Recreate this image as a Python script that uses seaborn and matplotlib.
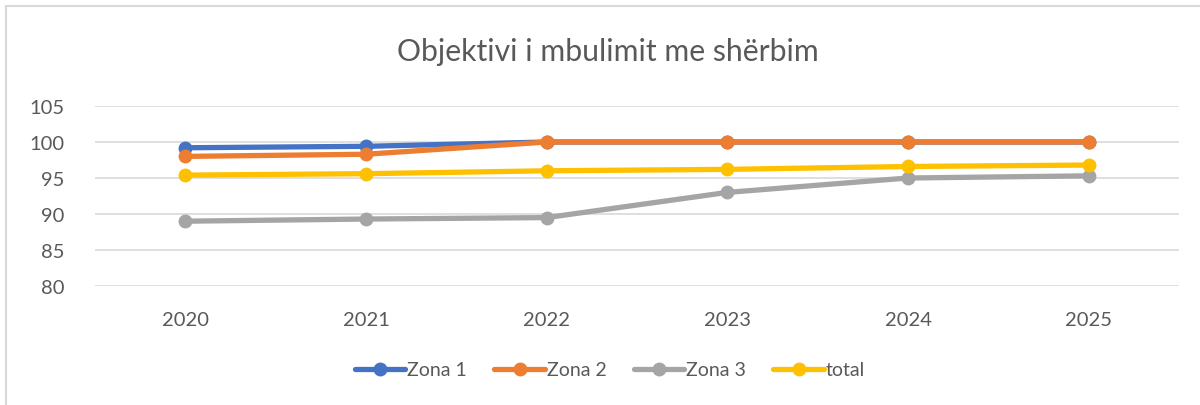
import matplotlib
matplotlib.use("Agg")
import matplotlib.pyplot as plt
import seaborn as sns
import pandas as pd
from matplotlib.patches import Rectangle

years = ["2020", "2021", "2022", "2023", "2024", "2025"]
zona1 = [99.2, 99.4, 100, 100, 100, 100]
zona2 = [98.0, 98.3, 100, 100, 100, 100]
zona3 = [89.0, 89.3, 89.5, 93.0, 95.0, 95.3]
total = [95.4, 95.6, 96.0, 96.2, 96.6, 96.8]
series_names = ["Zona 1", "Zona 2", "Zona 3", "total"]
yticks = [80, 85, 90, 95, 100, 105]

rows = []
for name, vals in zip(series_names, [zona1, zona2, zona3, total]):
    for i, (y, v) in enumerate(zip(years, vals)):
        rows.append({"x": i, "year": y, "value": v, "series": name})
df = pd.DataFrame(rows)

sns.set_theme(style="white")
plt.rcParams['font.family'] = ['Lato', 'DejaVu Sans']

fig = plt.figure(figsize=(12, 4.06), dpi=100)
ax = fig.add_axes([95/1200, 1 - 287/406, (1179-95)/1200, (287-107)/406])

palette = {"Zona 1": "#4472C4", "Zona 2": "#ED7D31", "Zona 3": "#A5A5A5", "total": "#FFC000"}
sns.lineplot(data=df, x="x", y="value", hue="series", palette=palette,
             marker="o", markersize=10, markeredgewidth=0, linewidth=3.8,
             ax=ax, legend=True)

ax.set_xlim(-0.5, 5.5)
ax.set_ylim(80, 105)
ax.set_yticks(yticks)
ax.set_xticks(range(len(years)))
ax.set_xticklabels(years)
ax.set_xlabel("")
ax.set_ylabel("")
ax.grid(axis="y", color="#D9D9D9", linewidth=1.2)
ax.set_axisbelow(True)
for s in ax.spines.values():
    s.set_visible(False)
ax.tick_params(axis="both", length=0, labelsize=14.5, colors="#595959")
ax.tick_params(axis="y", pad=22)
ax.tick_params(axis="x", pad=18)

handles, labels = ax.get_legend_handles_labels()
ax.legend(handles, labels, loc="center", bbox_to_anchor=(610/1200, 1 - 371/406),
          bbox_transform=fig.transFigure, ncol=4, frameon=False, fontsize=14,
          handlelength=2.6, handletextpad=0.1, columnspacing=1.4, labelcolor="#595959")

fig.text(608/1200, 1 - 52/406, "Objektivi i mbulimit me shërbim", ha="center", va="center",
         fontsize=21.7, color="#595959")

fig.patches.append(Rectangle((6/1200, -0.1), 1.2, 1 - 7/406 + 0.1, transform=fig.transFigure,
                             fill=False, edgecolor="#D9D9D9", linewidth=1.5))

fig.savefig("out.png", dpi=100)
